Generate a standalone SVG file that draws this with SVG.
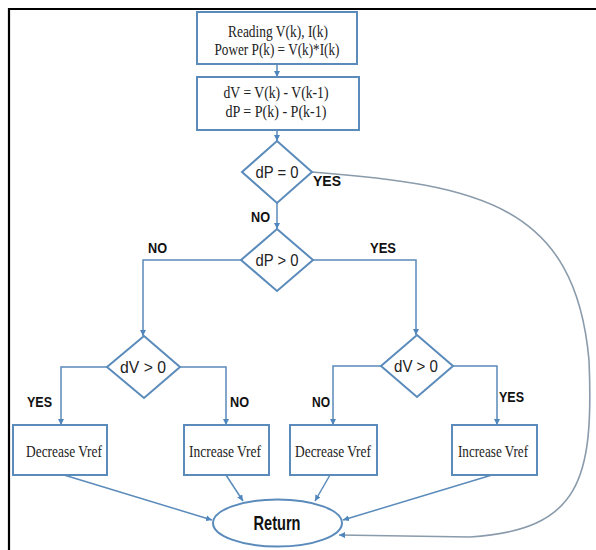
<svg xmlns="http://www.w3.org/2000/svg" width="596" height="550" viewBox="0 0 596 550">
<defs>
<style>
.shape{fill:#fff;stroke:#5a8bbb;stroke-width:2}
.conn{fill:none;stroke:#5a8bbb;stroke-width:1.5}
.curve{fill:none;stroke:#8a9bab;stroke-width:1.6}
.serif{font-family:"Liberation Serif","Times New Roman",serif;font-size:17px;fill:#222;text-anchor:middle}
.dtext{font-family:"Liberation Sans",Arial,sans-serif;font-size:17px;fill:#222;text-anchor:middle}
.lbl{font-family:"Liberation Sans",Arial,sans-serif;font-size:15px;font-weight:bold;fill:#111}
.ret{font-family:"Liberation Sans",Arial,sans-serif;font-size:20px;font-weight:bold;fill:#111;text-anchor:middle}
</style>
<marker id="ah" viewBox="0 0 10 10" refX="10" refY="5" markerWidth="6" markerHeight="6" markerUnits="userSpaceOnUse" orient="auto">
<path d="M0,0 L10,5 L0,10 z" fill="#4f86bd"/>
</marker>
</defs>
<rect width="596" height="550" fill="#fff"/>
<g id="frame">
<line x1="8" y1="9" x2="596" y2="9" stroke="#000" stroke-width="2.2"/>
<line x1="9" y1="8" x2="9" y2="550" stroke="#000" stroke-width="2.2"/>
</g>
<g id="connectors">
<line class="conn" x1="277" y1="64" x2="277" y2="77" marker-end="url(#ah)"/>
<line class="conn" x1="277" y1="130" x2="277" y2="141" marker-end="url(#ah)"/>
<line class="conn" x1="277" y1="203" x2="277" y2="229" marker-end="url(#ah)"/>
<polyline class="conn" points="241,260 143,260 143,336" marker-end="url(#ah)"/>
<polyline class="conn" points="313,260 416,260 416,335" marker-end="url(#ah)"/>
<polyline class="conn" points="107,367 61,367 61,425" marker-end="url(#ah)"/>
<polyline class="conn" points="180,367 226,367 226,425" marker-end="url(#ah)"/>
<polyline class="conn" points="381,366 333,366 333,425" marker-end="url(#ah)"/>
<polyline class="conn" points="453,366 497,366 497,425" marker-end="url(#ah)"/>
<line class="conn" x1="64" y1="475" x2="212" y2="520" marker-end="url(#ah)"/>
<line class="conn" x1="226" y1="475" x2="243" y2="501" marker-end="url(#ah)"/>
<line class="conn" x1="330" y1="475" x2="315" y2="501" marker-end="url(#ah)"/>
<line class="conn" x1="492" y1="475" x2="343" y2="520" marker-end="url(#ah)"/>
<path class="curve" d="M312,172 C480,185 575,205 589,360 C594,480 580,530 470,537 L339,535" marker-end="url(#ah)"/>
</g>
<g id="n-read">
<rect class="shape" x="197" y="12" width="160" height="52"/>
<text class="serif" x="278" y="37" textLength="100" lengthAdjust="spacingAndGlyphs">Reading V(k), I(k)</text>
<text class="serif" x="277" y="55" textLength="125" lengthAdjust="spacingAndGlyphs">Power P(k) = V(k)*I(k)</text>
</g>
<g id="n-diff">
<rect class="shape" x="197" y="77" width="162" height="53"/>
<text class="serif" x="276" y="98" textLength="105" lengthAdjust="spacingAndGlyphs">dV = V(k) - V(k-1)</text>
<text class="serif" x="276" y="117" textLength="101" lengthAdjust="spacingAndGlyphs">dP = P(k) - P(k-1)</text>
</g>
<g id="n-dp0">
<polygon class="shape" points="277,141 312,172 277,203 242,172"/>
<text class="dtext" x="277" y="178" textLength="43" lengthAdjust="spacingAndGlyphs">dP = 0</text>
</g>
<g id="n-dpgt">
<polygon class="shape" points="277,229 313,260 277,291 241,260"/>
<text class="dtext" x="277" y="266" textLength="43" lengthAdjust="spacingAndGlyphs">dP &gt; 0</text>
</g>
<g id="n-dvl">
<polygon class="shape" points="144,336 180,367 144,398 107,367"/>
<text class="dtext" x="143" y="373" textLength="46" lengthAdjust="spacingAndGlyphs">dV &gt; 0</text>
</g>
<g id="n-dvr">
<polygon class="shape" points="417,335 453,366 417,397 381,366"/>
<text class="dtext" x="416" y="372" textLength="44" lengthAdjust="spacingAndGlyphs">dV &gt; 0</text>
</g>
<g id="labels">
<text class="lbl" x="313" y="186" textLength="28" lengthAdjust="spacingAndGlyphs">YES</text>
<text class="lbl" x="251" y="222" textLength="19" lengthAdjust="spacingAndGlyphs">NO</text>
<text class="lbl" x="148" y="253" textLength="19" lengthAdjust="spacingAndGlyphs">NO</text>
<text class="lbl" x="370" y="253" textLength="26" lengthAdjust="spacingAndGlyphs">YES</text>
<text class="lbl" x="27" y="407" textLength="25" lengthAdjust="spacingAndGlyphs">YES</text>
<text class="lbl" x="230" y="407" textLength="19" lengthAdjust="spacingAndGlyphs">NO</text>
<text class="lbl" x="312" y="407" textLength="18" lengthAdjust="spacingAndGlyphs">NO</text>
<text class="lbl" x="499" y="402" textLength="25" lengthAdjust="spacingAndGlyphs">YES</text>
</g>
<g id="n-dec1">
<rect class="shape" x="13" y="425" width="94" height="50"/>
<text class="serif" x="64" y="457" textLength="76" lengthAdjust="spacingAndGlyphs">Decrease Vref</text>
</g>
<g id="n-inc1">
<rect class="shape" x="184" y="425" width="85" height="50"/>
<text class="serif" x="225" y="457" textLength="72" lengthAdjust="spacingAndGlyphs">Increase Vref</text>
</g>
<g id="n-dec2">
<rect class="shape" x="290" y="425" width="87" height="50"/>
<text class="serif" x="333" y="457" textLength="76" lengthAdjust="spacingAndGlyphs">Decrease Vref</text>
</g>
<g id="n-inc2">
<rect class="shape" x="452" y="425" width="85" height="50"/>
<text class="serif" x="493" y="457" textLength="70" lengthAdjust="spacingAndGlyphs">Increase Vref</text>
</g>
<g id="n-return">
<ellipse class="shape" cx="277.5" cy="523" rx="64.5" ry="23.5"/>
<text class="ret" x="277" y="530" textLength="47" lengthAdjust="spacingAndGlyphs">Return</text>
</g>
</svg>
